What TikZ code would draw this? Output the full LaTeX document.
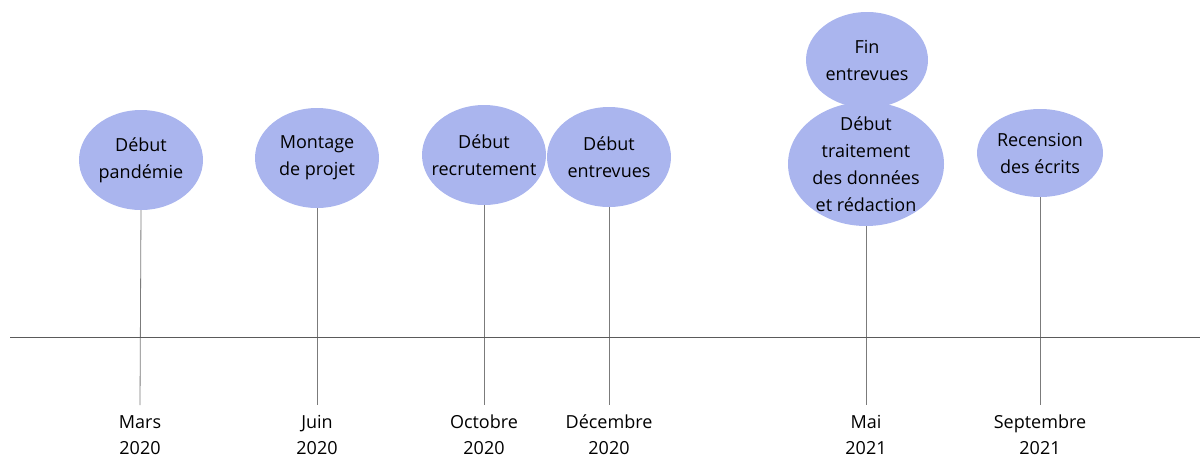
\documentclass[tikz,border=0pt]{standalone}
\usepackage{fontspec}
\setmainfont{Open Sans}
\usetikzlibrary{shapes.geometric}
\definecolor{bub}{RGB}{170,181,238}
\definecolor{ln}{RGB}{90,90,90}
\tikzset{
  bubble/.style={ellipse, fill=bub, inner sep=0pt},
  btext/.style={inner sep=0pt, align=center, font=\fontsize{18}{27}\selectfont},
  month/.style={anchor=north, inner xsep=0pt, inner ysep=10pt, align=center, font=\fontsize{18}{26}\selectfont},
  stem/.style={draw=ln!80, line width=0.8pt},
  axis/.style={draw=ln, line width=0.9pt}
}
\begin{document}
\begin{tikzpicture}[x=1pt,y=-1pt]
\useasboundingbox (0,0) rectangle (1202,458);
% bubbles
\node[bubble, minimum width=124pt, minimum height=100pt] (e1) at (141,160) {};
\node[bubble, minimum width=124pt, minimum height=100pt] (e2) at (317,158) {};
\node[bubble, minimum width=124pt, minimum height=100pt] (e3) at (484,155) {};
\node[bubble, minimum width=124pt, minimum height=100pt] (e4) at (609,157) {};
\node[bubble, minimum width=122pt, minimum height=96pt] (e5) at (867,60) {};
\node[bubble, minimum width=156pt, minimum height=124pt] (e6) at (866,164) {};
\node[bubble, minimum width=126pt, minimum height=88pt] (e7) at (1040,153) {};
\node[btext] (t1) at (e1) {Début\\pandémie};
\node[btext] (t2) at (e2) {Montage\\de projet};
\node[btext] (t3) at (e3) {Début\\recrutement};
\node[btext] (t4) at (e4) {Début\\entrevues};
\node[btext] (t5) at (e5) {Fin\\entrevues};
\node[btext] (t6) at (e6) {Début\\traitement\\des données\\et rédaction};
\node[btext] (t7) at (e7) {Recension\\des écrits};
% month labels
\node[month] (m1) at (140,405) {Mars\\2020};
\node[month] (m2) at (317,405) {Juin\\2020};
\node[month] (m3) at (484,405) {Octobre\\2020};
\node[month] (m4) at (609,405) {Décembre\\2020};
\node[month] (m5) at (866,405) {Mai\\2021};
\node[month] (m6) at (1040,405) {Septembre\\2021};
% stems
\draw[stem] (e1.south) -- (m1.north);
\draw[stem] (e2.south) -- (m2.north);
\draw[stem] (e3.south) -- (m3.north);
\draw[stem] (e4.south) -- (m4.north);
\draw[stem] (e6.south) -- (m5.north);
\draw[stem] (e7.south) -- (m6.north);
% axis
\coordinate (axL) at (10,337);
\coordinate (axR) at (1200,337);
\draw[axis] (axL) -- (axR);
\end{tikzpicture}
\end{document}
